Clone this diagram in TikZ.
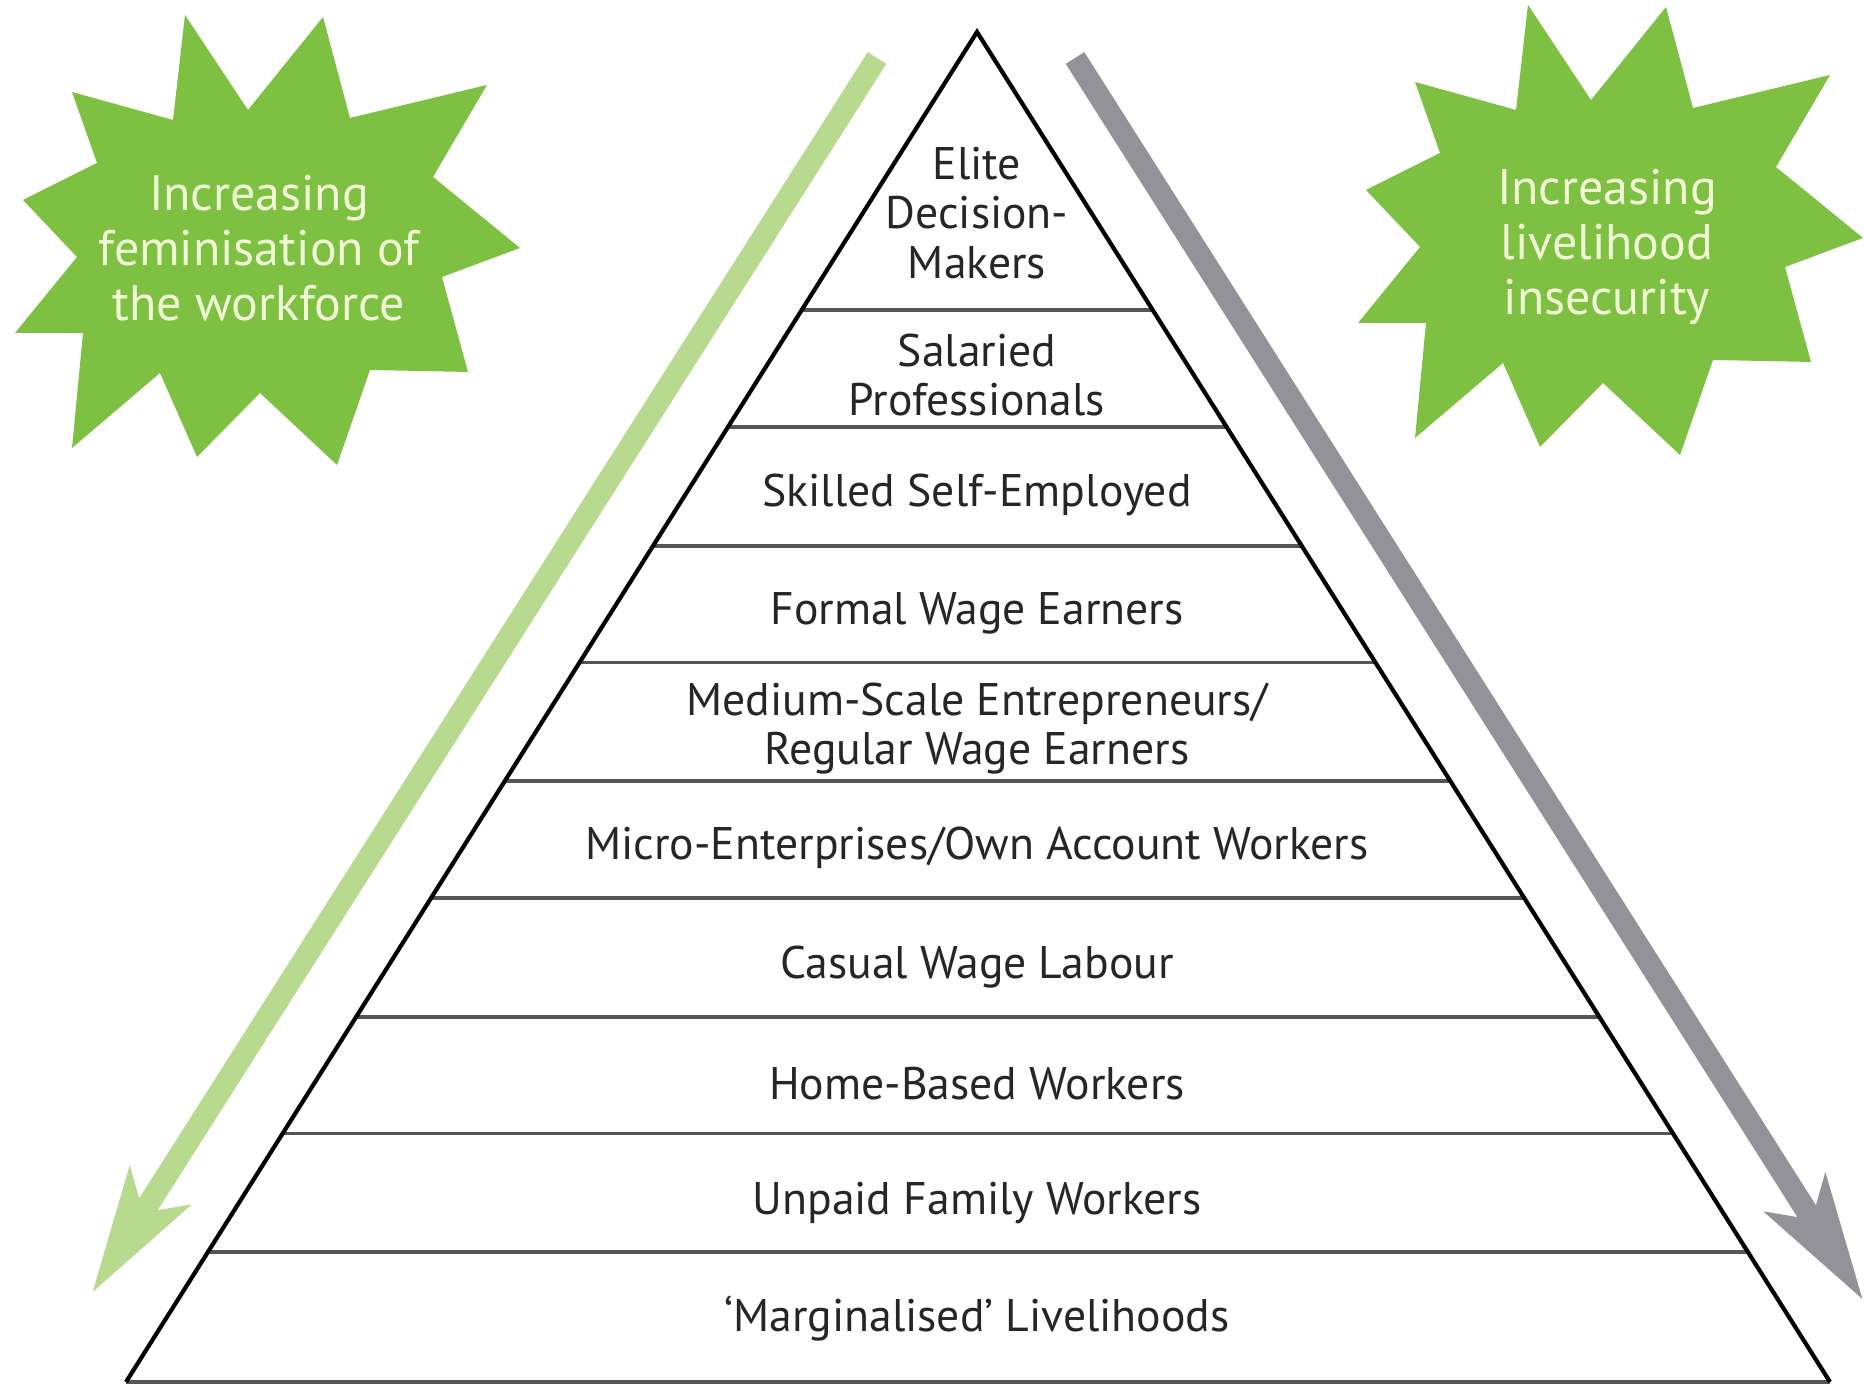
\documentclass[tikz,border=0pt]{standalone}
\usepackage{fontspec}
\setmainfont{PT Sans}
\usetikzlibrary{arrows.meta,calc}
\definecolor{burstgreen}{RGB}{126,192,66}
\definecolor{burstfont}{RGB}{240,248,214}
\definecolor{lightgreen}{RGB}{183,218,143}
\definecolor{arrowgrey}{RGB}{146,146,152}
\definecolor{tierline}{RGB}{85,85,85}
\tikzset{
  tiertext/.style={text=black!85, font=\fontsize{13}{14}\selectfont, align=center},
  bursttext/.style={text=burstfont, font=\fontsize{14.2}{15.6}\selectfont, align=center},
  divider/.style={tierline, line width=0.9pt},
  trend/.style={line width=0.22cm, -{Stealth[length=12.5mm,width=7mm,inset=3mm]}},
  burst/.pic={
    \fill[burstgreen] (1.85,13.69) -- (2.48,12.74) -- (3.23,13.67) -- (3.50,12.66)
      -- (4.87,12.99) -- (4.33,12.07) -- (5.20,11.36) -- (4.42,11.07) -- (4.68,10.12)
      -- (3.70,10.14) -- (3.37,9.19) -- (2.60,9.91) -- (1.97,9.27) -- (1.60,10.11)
      -- (0.72,9.36) -- (0.83,10.51) -- (0.15,10.51) -- (0.77,11.27) -- (0.23,11.84)
      -- (0.97,12.21) -- (0.72,12.92) -- (1.73,12.64) -- cycle;
  },
}
\begin{document}
\begin{tikzpicture}
\useasboundingbox (0,0) rectangle (18.65,13.84);
% Trend arrows
\coordinate (gtop) at (8.77,13.26);
\coordinate (gtip) at (0.92,0.91);
\coordinate (ktop) at (10.75,13.26);
\coordinate (ktip) at (18.63,0.84);
\draw[trend, lightgreen] (gtop) -- (gtip);
\draw[trend, arrowgrey] (ktop) -- (ktip);
% Starbursts
\pic at (0,0) {burst};
\pic at (13.43,0.10) {burst};
\node[bursttext] (ftext) at (2.59,11.36) {Increasing\\feminisation of\\the workforce};
\node[bursttext] (ltext) at (16.07,11.37) {Increasing\\livelihood\\insecurity};
% Pyramid
\coordinate (apex) at (9.77,13.52);
\coordinate (bl) at (1.26,0.02);
\coordinate (br) at (18.30,0.02);
\foreach \t in {0.2059,0.2926,0.3807,0.4670,0.5548,0.6415,0.7296,0.8159,0.9037}
  \draw[divider] ($(apex)!\t!(bl)$) -- ($(apex)!\t!(br)$);
\draw[divider] (bl) -- (br);
\draw[line width=1.2pt, line join=miter] (bl) -- (apex) -- (br);
% Tiers
\node[tiertext] (elite) at (9.77,11.71) {Elite\\Decision-\\Makers};
\node[tiertext] (salaried) at (9.77,10.09) {Salaried\\Professionals};
\node[tiertext] (skilled) at (9.77,8.89) {Skilled Self-Employed};
\node[tiertext] (formal) at (9.77,7.71) {Formal Wage Earners};
\node[tiertext] (medium) at (9.77,6.555) {Medium-Scale Entrepreneurs/\\Regular Wage Earners};
\node[tiertext] (micro) at (9.77,5.36) {Micro-Enterprises/Own Account Workers};
\node[tiertext] (casual) at (9.77,4.17) {Casual Wage Labour};
\node[tiertext] (home) at (9.77,3.00) {Home-Based Workers};
\node[tiertext] (unpaid) at (9.77,1.81) {Unpaid Family Workers};
\node[tiertext] (marginal) at (9.77,0.65) {‘Marginalised’ Livelihoods};
\end{tikzpicture}
\end{document}
